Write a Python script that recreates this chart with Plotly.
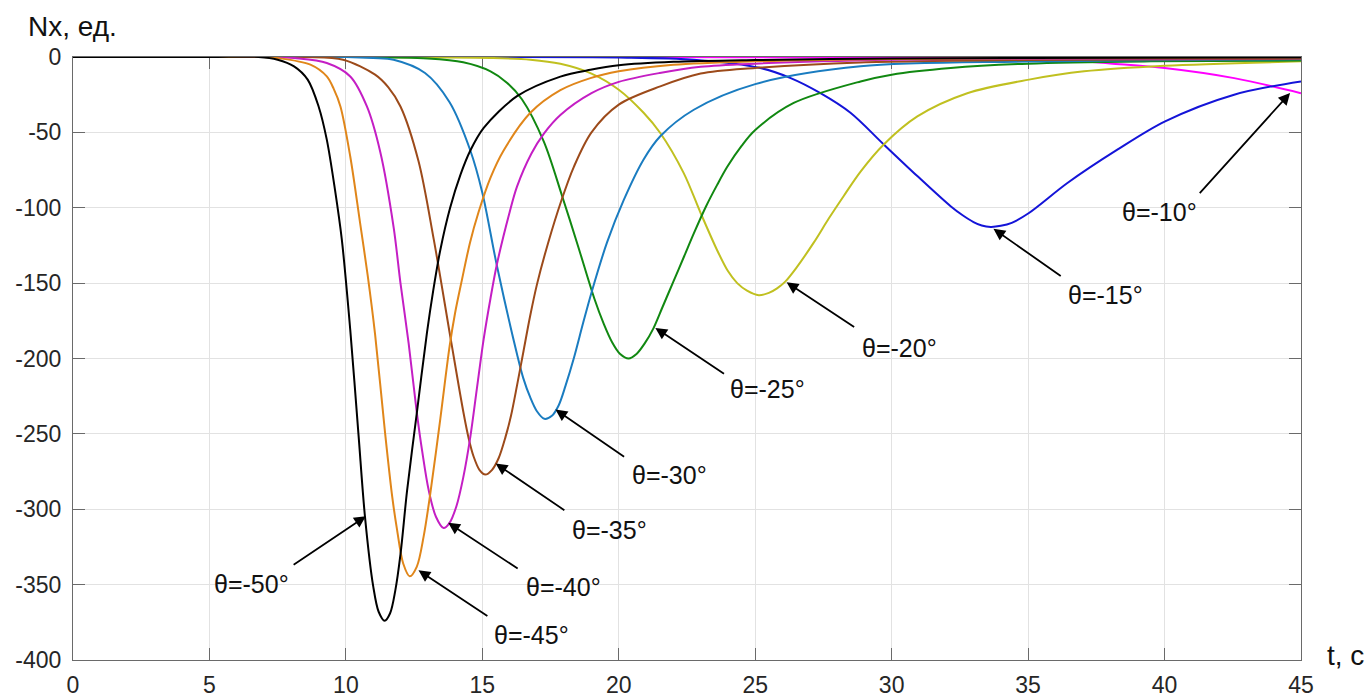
import plotly.graph_objects as go

# ---- data (t in s, Nx in units) ----
labels = ["θ=-10°", "θ=-15°", "θ=-20°", "θ=-25°", "θ=-30°",
          "θ=-35°", "θ=-40°", "θ=-45°", "θ=-50°"]
colors = ["#FF00FF", "#1414D8", "#C0C020", "#118811", "#1A7CC0",
          "#9C4A1A", "#C41EC4", "#E0861A", "#000000"]

x_ticks = [0, 5, 10, 15, 20, 25, 30, 35, 40, 45]
x_ticktext = ["0", "5", "10", "15", "20", "25", "30", "35", "40", "45"]
y_ticks = [0, -50, -100, -150, -200, -250, -300, -350, -400]
y_ticktext = ["0", "-50", "-100", "-150", "-200", "-250", "-300", "-350", "-400"]

t_10 = [0, 5, 10, 20, 30, 35, 36.5, 38.0, 40.0, 42.55, 45.0]
n_10 = [0, 0, 0, 0, -0.5, -1.2, -2.2, -4.3, -7.3, -14, -24]

t_15 = [0, 5, 10, 15, 20.0, 22.75, 25.19, 26.3, 27.39, 28.49, 29.71, 30.94, 32.16,
        32.6, 33.0, 33.3, 33.63, 34.0, 34.4, 35.03, 36.44, 38.27, 40.02, 42.55, 45.0]
n_15 = [0, 0, 0, 0, -0.3, -1.8, -7.3, -14, -24, -37, -58, -79, -99,
        -105, -109.5, -111.8, -112.7, -112, -110, -103.5, -83.6, -61.5, -42.7, -25, -16.2]

t_20 = [0, 5, 10, 15.4, 16.76, 17.86, 19.0, 20.0, 20.91, 21.52, 22.38, 23.0, 23.6,
        24.0, 24.34, 24.7, 25.13, 25.5, 25.8, 26.1, 26.5, 27.15, 27.7, 28.25, 28.86,
        29.71, 30.94, 32.77, 35.03, 37.05, 40.0, 45.0]
n_20 = [0, 0, 0, -0.7, -1.8, -4.5, -11, -21.7, -37, -50.4, -77, -103.5, -128,
        -142, -150, -155, -158, -156.5, -153.5, -149, -140, -123, -107, -92, -76,
        -58, -39.4, -24, -15, -9.5, -5.8, -2.9]

t_25 = [0, 5, 10, 13.0, 14.3, 15.3, 15.9, 16.45, 17.25, 17.92, 18.5, 19.1, 19.45,
        19.75, 20.05, 20.36, 20.65, 20.95, 21.27, 21.6, 22.0, 22.4, 22.75, 23.2, 23.6,
        23.97, 24.5, 25.0, 26.41, 28.86, 30.0, 32.16, 35.0, 39.5, 45.0]
n_25 = [0, 0, 0, -1.0, -3.5, -9.5, -17, -28, -56, -92, -125, -160, -177,
        -189, -197, -200, -197, -190, -180, -166, -149, -132, -117, -99, -85,
        -73, -59, -48.5, -30.5, -16.2, -11.7, -7.3, -4.4, -2.9, -2.3]

t_30 = [0, 5, 10, 11.0, 11.75, 12.9, 13.8, 14.56, 15.0, 15.54, 16.27, 16.5, 16.76,
        17.0, 17.27, 17.55, 17.8, 18.05, 18.35, 18.7, 19.02, 19.57, 20.18, 20.91,
        21.52, 22.75, 25.0, 28.86, 35.0, 45.0]
n_30 = [0, 0, 0, -0.7, -1.8, -10.6, -30, -62, -90, -139, -197, -213, -226,
        -235, -240, -238, -231, -218, -200, -176, -155, -123, -95, -68,
        -52.6, -35, -18, -6.2, -3, -1.5]

t_35 = [0, 5, 8.5, 9.9, 11.07, 11.55, 12.0, 12.66, 13.22, 13.85, 14.31, 14.5, 14.68,
        14.9, 15.11, 15.35, 15.6, 15.85, 16.05, 16.27, 16.51, 16.75, 17.0, 17.4, 17.9,
        18.35, 19.0, 20.0, 21.52, 23.0, 25.0, 28.86, 35.0, 45.0]
n_35 = [0, 0, 0, -1.8, -11.7, -20, -32.8, -69, -121, -188, -236, -253, -265,
        -274, -277, -274, -266, -252, -238, -218, -195, -172, -151, -124, -95,
        -73, -50, -31.6, -19.5, -11, -7.3, -3.6, -2, -1.2]

t_40 = [0, 5, 7.5, 8.1, 9.3, 10.16, 10.77, 11.26, 11.75, 12.0, 12.3, 12.6, 12.8,
        13.03, 13.3, 13.58, 13.8, 14.05, 14.3, 14.56, 14.8, 15.05, 15.3, 15.54, 16.0,
        16.27, 16.8, 17.25, 17.86, 19.0, 20.0, 21.5, 23.0, 25.0, 30.0, 35.0, 45.0]
n_40 = [0, 0, 0, -0.7, -4, -12.9, -32.8, -63, -113, -150, -190, -236, -262,
        -287, -305, -312.5, -309, -298, -279, -252, -220, -187, -160, -137, -103,
        -86, -64, -51, -38.5, -24, -16.5, -10.6, -6.5, -4.4, -1.8, -1.1, -0.8]

t_45 = [0, 5, 7.0, 7.5, 8.7, 9.3, 9.55, 9.8, 10.16, 10.52, 10.8, 11.07, 11.44,
        11.7, 11.87, 12.1, 12.34, 12.6, 12.85, 13.09, 13.46, 13.8, 14.0, 14.25,
        14.55, 14.86, 15.3, 15.78, 16.76, 17.86, 18.96, 20.0, 22.0, 25.0, 30.0,
        35.0, 45.0]
n_45 = [0, 0, 0, -0.7, -5.1, -12.9, -21, -32.8, -66, -110, -145, -184, -250,
        -292, -313, -336, -344.5, -338, -318, -290, -240, -192, -170, -148,
        -123, -103, -80, -62, -37, -22, -14, -9.5, -5.2, -2.9, -1.3,
        -0.8, -0.5]

t_50 = [0, 5, 6.8, 7.5, 8.1, 8.6, 9.0, 9.3, 9.6, 9.85, 10.16, 10.46, 10.7, 11.0,
        11.2, 11.42, 11.62, 11.81, 12.0, 12.24, 12.6, 12.97, 13.2, 13.46, 13.82, 14.2,
        14.56, 15.05, 16.27, 17.86, 18.96, 20.0, 22.0, 25.0, 30.0, 35.0, 45.0]
n_50 = [0, 0, 0, -1.8, -6.2, -15, -32.8, -54.8, -88, -121, -181, -250, -305, -351,
        -368, -374, -369, -354, -330, -288, -236, -183, -155, -128, -100, -78,
        -62, -47, -26, -13, -8.5, -5.5, -3.2, -2, -1, -0.6, -0.3]

series_t = [t_10, t_15, t_20, t_25, t_30, t_35, t_40, t_45, t_50]
series_n = [n_10, n_15, n_20, n_25, n_30, n_35, n_40, n_45, n_50]

# label layout: (text x, text y, arrow tail x, tail y, arrow head x, head y) in data units
label_pos = [
    (39.8, -102.6, 41.24, -91.3, 44.6, -23.9),
    (37.84, -157.6, 36.25, -145.9, 33.73, -114.0),
    (30.29, -192.8, 28.68, -179.7, 26.15, -149.5),
    (25.45, -220.0, 23.91, -210.7, 21.34, -179.7),
    (21.86, -277.6, 20.25, -265.9, 17.68, -233.9),
    (19.67, -313.5, 18.06, -301.3, 15.49, -269.7),
    (17.99, -351.9, 16.35, -340.0, 13.75, -309.0),
    (16.81, -383.1, 15.24, -371.4, 12.66, -340.5),
    (6.53, -349.6, 8.03, -337.5, 10.73, -304.6),
]

FONT = "Liberation Sans, Arial, sans-serif"

fig = go.Figure()
for name, col, tt, nn in zip(labels, colors, series_t, series_n):
    fig.add_trace(go.Scatter(x=tt, y=nn, mode="lines", name=name,
                             line=dict(color=col, width=2, shape="spline", smoothing=0.9),
                             showlegend=False))

annotations = []
for name, (tx, ty, ax_, ay_, hx, hy) in zip(labels, label_pos):
    annotations.append(dict(x=hx, y=hy, ax=ax_, ay=ay_, xref="x", yref="y",
                            axref="x", ayref="y", text="", showarrow=True,
                            arrowhead=2, arrowsize=1.3, arrowwidth=1.8,
                            arrowcolor="#000000", standoff=0))
    annotations.append(dict(x=tx, y=ty, xref="x", yref="y", text=name,
                            showarrow=False, xanchor="center", yanchor="middle",
                            font=dict(family=FONT, size=25, color="#111111")))

annotations.append(dict(x=-0.0383, y=1.05, xref="paper", yref="paper", text="Nx, ед.",
                        showarrow=False, xanchor="left", yanchor="middle",
                        font=dict(family=FONT, size=28, color="#111111")))
annotations.append(dict(x=1.0195, y=0.008, xref="paper", yref="paper", text="t, c",
                        showarrow=False, xanchor="left", yanchor="middle",
                        font=dict(family=FONT, size=28, color="#111111")))

axis_common = dict(showgrid=True, gridcolor="#E2E2E2", gridwidth=1,
                   showline=True, linecolor="#6A6A6A", linewidth=1,
                   mirror="allticks", ticks="inside", ticklen=12,
                   tickcolor="#6A6A6A", tickwidth=1, zeroline=False,
                   layer="below traces", automargin=False,
                   tickfont=dict(family=FONT, size=23, color="#262626"))

fig.update_xaxes(range=[0, 45], tickmode="array", tickvals=x_ticks, ticktext=x_ticktext,
                 ticklabelstandoff=4, **axis_common)
fig.update_yaxes(range=[-400, 0], tickmode="array", tickvals=y_ticks, ticktext=y_ticktext,
                 ticklabelstandoff=6, **axis_common)

fig.update_layout(width=1366, height=697,
                  margin=dict(l=73, r=65, t=57, b=37, autoexpand=False),
                  paper_bgcolor="white", plot_bgcolor="white",
                  annotations=annotations)

fig.write_html("out.html", config={"displayModeBar": False},
               post_script="document.body.style.margin='0px';document.body.style.overflow='hidden';")
